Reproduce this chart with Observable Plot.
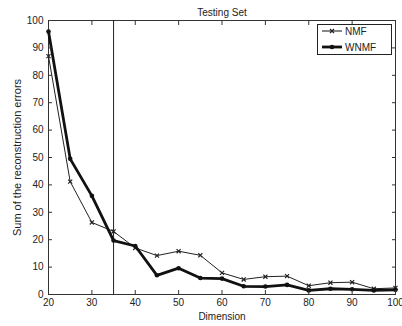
<!DOCTYPE html>
<html><head><meta charset="utf-8">
<script src="https://cdn.jsdelivr.net/npm/d3@7"></script>
<script src="https://cdn.jsdelivr.net/npm/@observablehq/plot@0.6"></script>
<style>
body{margin:0;background:#fff;}
#wrap{position:relative;width:402px;height:326px;font-family:"Liberation Sans",Arial,sans-serif;}
#legend{position:absolute;left:317px;top:24px;width:75px;height:31px;border:1px solid #222;background:#fff;box-sizing:border-box;font-size:10px;color:#222;}
#legend .row{position:absolute;left:4px;height:14px;display:flex;align-items:center;}
#legend svg{margin-right:3px;}
</style></head>
<body><div id="wrap"><div id="legend"></div></div>
<script>
const dims = [20,25,30,35,40,45,50,55,60,65,70,75,80,85,90,95,100];
const nmf  = [87,41.2,26.3,23,17,14.2,15.8,14.3,7.9,5.5,6.5,6.7,3.2,4.3,4.5,2.1,2.4];
const wnmf = [96,49.5,36,19.7,17.7,7,9.6,6,5.8,3,2.9,3.5,1.5,2.1,1.9,1.5,1.7];
const xTicks = [20,30,40,50,60,70,80,90,100];
const yTicks = [0,10,20,30,40,50,60,70,80,90,100];
const markerDim = [35];
const seriesNames = ["NMF","WNMF"];

const data = dims.map((d,i)=>({d, nmf:nmf[i], wnmf:wnmf[i]}));
const ink = "#222";

const chart = Plot.plot({
  width:402, height:326,
  marginLeft:48, marginRight:7, marginTop:20, marginBottom:32,
  style:{fontFamily:'"Liberation Sans", Arial, sans-serif', fontSize:"10px", color:ink, background:"transparent", overflow:"visible"},
  x:{domain:[20,100]},
  y:{domain:[0,100]},
  marks:[
    Plot.frame({stroke:"#333"}),
    Plot.ruleX(markerDim, {stroke:ink, strokeWidth:1}),
    Plot.line(data, {x:"d", y:"nmf", stroke:ink, strokeWidth:1}),
    Plot.dot(data, {x:"d", y:"nmf", symbol:"times", r:2, stroke:ink, strokeWidth:1.2}),
    Plot.line(data, {x:"d", y:"wnmf", stroke:"#111", strokeWidth:2.8}),
    Plot.dot(data, {x:"d", y:"wnmf", symbol:"circle", r:2.3, fill:"#111", stroke:"none"}),
    Plot.axisX(xTicks, {anchor:"bottom", tickSize:-4, tickPadding:8, stroke:"#333", label:"Dimension", labelAnchor:"center", labelOffset:25, labelArrow:"none"}),
    Plot.axisX(xTicks, {anchor:"top", tickSize:-4, tickFormat:()=>"", label:null, stroke:"#333"}),
    Plot.axisY(yTicks, {anchor:"left", tickSize:-4, tickPadding:9, stroke:"#333", label:null}),
    Plot.axisY(yTicks, {anchor:"right", tickSize:-4, tickFormat:()=>"", label:null, stroke:"#333"}),
    Plot.text(["Sum of the reconstruction errors"], {frameAnchor:"left", dx:-31, rotate:-90, textAnchor:"middle", fill:ink, fontSize:11}),
    Plot.text(["Testing Set"], {frameAnchor:"top", dy:-12, fill:ink, fontSize:10})
  ]
});
const wrap = document.getElementById("wrap");
wrap.insertBefore(chart, wrap.firstChild);

const legend = document.getElementById("legend");
seriesNames.forEach((name,i)=>{
  const row = document.createElement("div");
  row.className = "row";
  row.style.top = (i*16 - 1) + "px";
  const w = i===0 ? 1 : 2.8;
  const marker = i===0
    ? `<path d="M8,4L12,8M12,4L8,8" stroke="${ink}" stroke-width="1.2"/>`
    : `<circle cx="10" cy="6" r="2.3" fill="#111"/>`;
  row.innerHTML = `<svg width="20" height="12"><line x1="0" x2="20" y1="6" y2="6" stroke="#111" stroke-width="${w}"/>${marker}</svg><span>${name}</span>`;
  legend.appendChild(row);
});
</script></body></html>
